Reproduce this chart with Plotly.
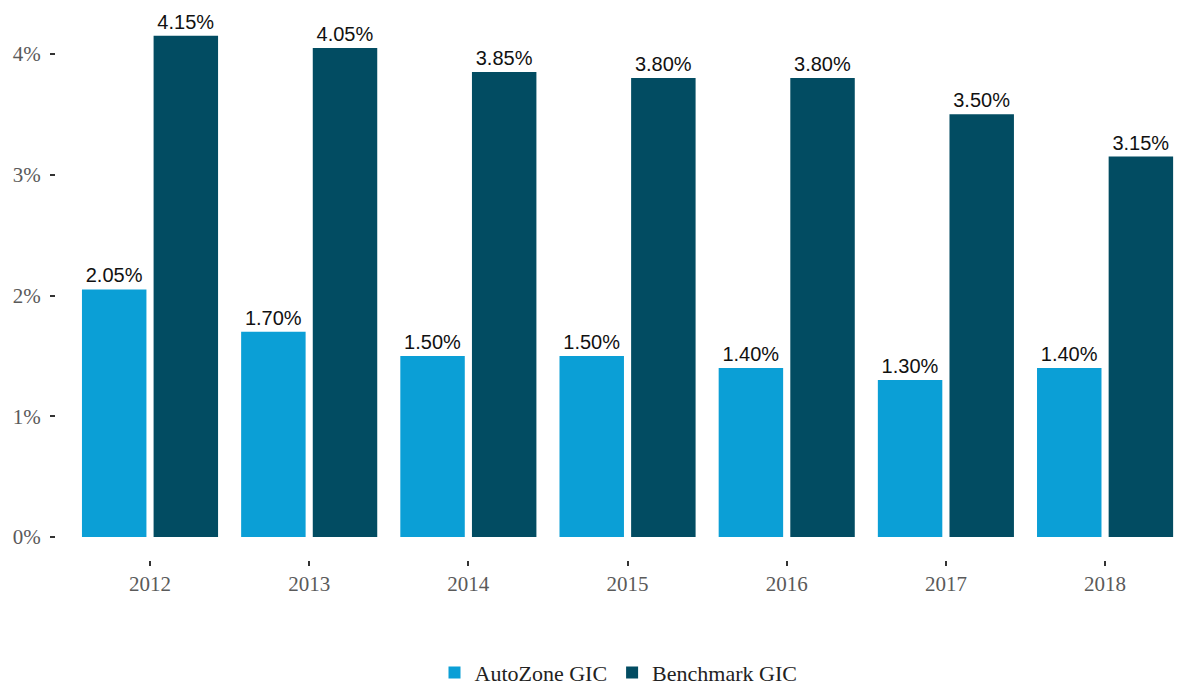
import plotly.graph_objects as go

years = ["2012", "2013", "2014", "2015", "2016", "2017", "2018"]
autozone = [2.05, 1.70, 1.50, 1.50, 1.40, 1.30, 1.40]
benchmark = [4.15, 4.05, 3.85, 3.80, 3.80, 3.50, 3.15]
series_names = ["AutoZone GIC", "Benchmark GIC"]
colors = ["#0b9fd6", "#024c62"]

fig = go.Figure()
for name, vals, col in zip(series_names, [autozone, benchmark], colors):
    fig.add_trace(go.Bar(
        x=years, y=vals, name=name, marker_color=col, marker_line_width=0,
        text=[f"{v:.2f}%" for v in vals], textposition="outside",
        textfont=dict(family="Liberation Sans, Arial, sans-serif", size=20, color="#111"),
        constraintext="none", cliponaxis=False,
    ))

fig.update_layout(
    width=1181, height=694, plot_bgcolor="white", paper_bgcolor="white",
    margin=dict(l=56, r=0, t=10, b=134),
    barmode="group", bargap=0.1, bargroupgap=0.1,
    showlegend=True,
    legend=dict(orientation="h", x=0.5, xanchor="center", xref="paper",
                y=-0.243, yanchor="bottom",
                font=dict(family="Liberation Serif, Times New Roman, serif", size=22, color="#222")),
    font=dict(family="Liberation Serif, Times New Roman, serif"),
)
fig.update_xaxes(range=[-0.5906, 6.477], showgrid=False, showline=False, zeroline=False,
                 ticks="outside", ticklen=5, tickwidth=1.5, tickcolor="#333",
                 tickfont=dict(family="Liberation Serif, serif", size=21, color="#5a5a5a"))
fig.update_yaxes(range=[-0.19, 4.364], showgrid=False, showline=False, zeroline=False,
                 tickvals=[0, 1, 2, 3, 4], ticktext=["0%", "1%", "2%", "3%", "4%"],
                 ticks="outside", ticklen=5, tickwidth=2, tickcolor="#333",
                 ticklabelstandoff=5,
                 tickfont=dict(family="Liberation Serif, serif", size=21, color="#5a5a5a"))

fig.write_html("out.html")
